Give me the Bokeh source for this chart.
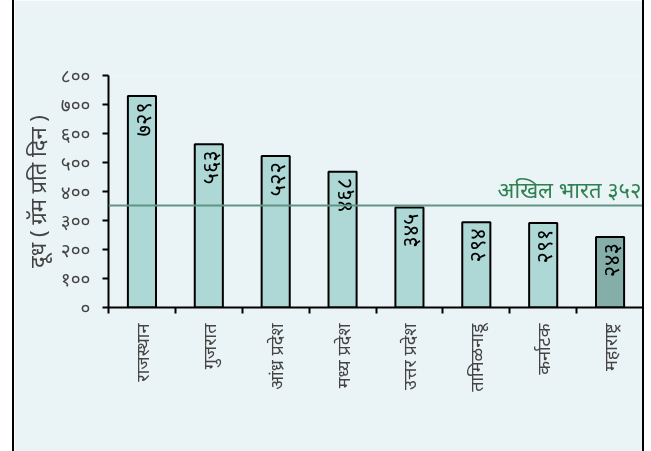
from bokeh.plotting import figure
from bokeh.models import FixedTicker, Span, Label, ColumnDataSource
from bokeh.core.properties import value
from bokeh.embed import file_html
from bokeh.resources import INLINE

states = ["राजस्थान", "गुजरात", "आंध्र प्रदेश", "मध्य प्रदेश",
          "उत्तर प्रदेश", "तामिळनाडू", "कर्नाटक", "महाराष्ट्र"]
milk = [729, 563, 522, 468, 345, 294, 291, 243]
milk_labels = ["७२९", "५६३", "५२२", "४६८", "३४५", "२९४", "२९१", "२४३"]
y_ticks = [0, 100, 200, 300, 400, 500, 600, 700, 800]
y_tick_labels = ["०", "१००", "२००", "३००", "४००", "५००", "६००", "७००", "८००"]
india_avg = 352
india_label = "अखिल भारत ३५२"
y_title = "दूध ( ग्रॅम प्रति दिन )"

FONT = "Noto Sans"
BG = "#EAF3F5"
light = "#AED8D5"
dark = "#85AEA8"
colors = [light] * 7 + [dark]

xc = [i + 0.5 for i in range(len(states))]
src = ColumnDataSource(dict(x=xc, top=milk, lab=milk_labels, color=colors))

p = figure(width=632, height=451, x_range=(0, 8), y_range=(0, 800),
           output_backend="svg", toolbar_location=None,
           min_border_left=94, min_border_right=3, min_border_top=75,
           min_border_bottom=144)
p.background_fill_color = BG
p.border_fill_color = BG
p.outline_line_color = None
p.grid.visible = False
p.styles = {"position": "fixed", "left": "12px", "top": "0px",
            "border-left": "2px solid black", "border-right": "2px solid black"}

p.vbar(x="x", top="top", width=0.42, bottom=0, source=src,
       fill_color="color", line_color="black", line_width=2)

p.text(x="x", y="top", text="lab", source=src, angle=1.5708,
       text_align="right", text_baseline="middle", y_offset=6,
       text_font=value(FONT), text_font_size="22px", text_color="black")

p.add_layout(Span(location=india_avg, dimension="width",
                  line_color="#5E9585", line_width=2))
p.add_layout(Label(x=8, y=india_avg, text=india_label, text_align="right",
                   text_baseline="bottom", x_offset=-2, y_offset=1,
                   text_font=FONT, text_font_size="22px", text_color="#2F8050"))

# y axis
ya = p.yaxis[0]
ya.ticker = FixedTicker(ticks=y_ticks, minor_ticks=[])
ya.major_label_overrides = {t: s for t, s in zip(y_ticks, y_tick_labels)}
ya.axis_label = y_title
ya.axis_label_text_font = FONT
ya.axis_label_text_font_style = "normal"
ya.axis_label_text_font_size = "22px"
ya.axis_label_standoff = 6
ya.major_label_text_font = FONT
ya.major_label_text_font_size = "19px"
ya.major_label_standoff = 12
ya.major_tick_in = 0
ya.major_tick_out = 6
ya.major_tick_line_width = 2
ya.axis_line_width = 2
ya.axis_line_color = "black"

# x axis
xa = p.xaxis[0]
xa.ticker = FixedTicker(ticks=xc, minor_ticks=list(range(0, 9)))
xa.major_label_overrides = {c: s for c, s in zip(xc, states)}
xa.major_label_orientation = 1.5708
xa.major_label_text_font = FONT
xa.major_label_text_font_size = "18px"
xa.major_label_standoff = 10
xa.major_tick_line_color = None
xa.major_tick_in = 0
xa.major_tick_out = 6
xa.minor_tick_in = 0
xa.minor_tick_out = 6
xa.minor_tick_line_width = 2
xa.minor_tick_line_color = "black"
xa.axis_line_width = 2
xa.axis_line_color = "black"

open("out.html", "w").write(file_html(p, INLINE))
